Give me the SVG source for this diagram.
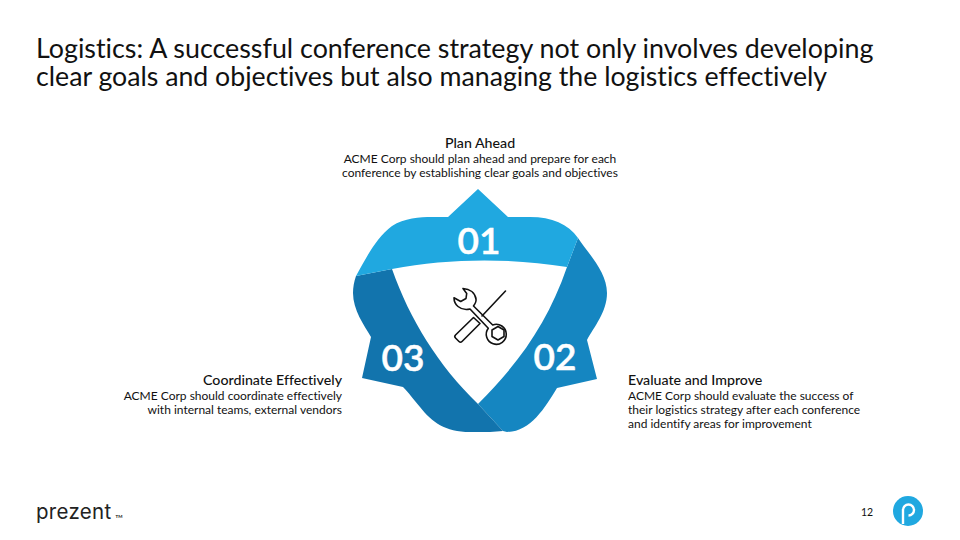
<svg xmlns="http://www.w3.org/2000/svg" width="960" height="540" viewBox="0 0 960 540">
<style>
text{font-family:Lato,"Liberation Sans",sans-serif;fill:#111;font-variant-ligatures:none}
.t{font-size:26.85px}
.h{font-size:14.2px;font-weight:500}
.b{font-size:12px}
.n{font-size:37px;font-weight:600;fill:#fff;stroke:#fff;stroke-width:.5;text-anchor:middle}
.m{text-anchor:middle}.e{text-anchor:end}
.i{fill:none;stroke:#111;stroke-width:1.6;stroke-linejoin:round;stroke-linecap:round}
</style>
<rect width="960" height="540" fill="#fff"/>
<g id="title"><text class="t" x="36" y="57.500">Logistics: A successful conference strategy not only involves developing</text>
<text class="t" x="36" y="86" style="font-size:26.7px">clear goals and objectives but also managing the logistics effectively</text></g>
<g id="segment-02"><path fill="#1586c1" d="M578 238C588 253 607 272 607 293C607 312 594 327 587 340L597 379L557 388C545 408 530 432 507 432L503 431L478 404C520 362 548 322 567 267Z"/>
<text class="n" x="555" y="370">02</text></g>
<g id="segment-03"><path fill="#1274ad" d="M356 276L392 269C410 320 438 365 478 404L503 431L490 432H470C445 432 432 422 420 407C413 399 409 393 403 387L362 378L371 337C364 325 353 310 353 293C353 287 354 282 356 276Z"/>
<text class="n" x="403" y="371">03</text></g>
<g id="segment-01"><path fill="#20a8e0" d="M478 189L508 217H530C552 217 568 224 578 238L567 267C510 258 450 258 392 269L356 276C366 258 376 238 392 226C404 218 420 217 432 217H448Z"/>
<text class="n" x="479" y="254">01</text></g>
<g id="icon">
<path class="i" d="M505.500 291L482 316M473.500 317.500L455.500 335C454.500 336 454.500 337 455.500 338L459 341.500C460 342.500 461 342.500 462 341.500L480 323.500Z"/>
<path class="i" d="M463 288.500C470 289 475 293 476 299C476.500 302 475 304 473.500 306L492.700 325A10 10 0 1 1 488.300 328.300L470 309C466 310 461 309 458 306.500C455 304 454 301 454 297.700L460.700 301.500L466 298.500L466.700 293.500Z"/>
<path class="i" d="M498 326.500L504 330V336.500L498 340L492 336.500V330Z"/>
</g>
<g id="plan-ahead"><text class="h m" x="480" y="148">Plan Ahead</text>
<text class="b m" x="480" y="163">ACME Corp should plan ahead and prepare for each</text>
<text class="b m" x="480" y="177">conference by establishing clear goals and objectives</text></g>
<g id="evaluate"><text class="h" x="628" y="385">Evaluate and Improve</text>
<text class="b" x="628" y="400">ACME Corp should evaluate the success of</text>
<text class="b" x="628" y="414">their logistics strategy after each conference</text>
<text class="b" x="628" y="428">and identify areas for improvement</text></g>
<g id="coordinate"><text class="h e" x="342" y="385">Coordinate Effectively</text>
<text class="b e" x="342" y="400">ACME Corp should coordinate effectively</text>
<text class="b e" x="342" y="414">with internal teams, external vendors</text></g>
<g id="footer">
<text x="36" y="519" font-size="20.500" letter-spacing=".3" style="font-family:Inter,sans-serif;fill:#222">prezent</text>
<text x="115.500" y="518" font-size="4.500" style="font-weight:700">TM</text>
<text x="867" y="516" font-size="10.500" text-anchor="middle">12</text>
<circle cx="908" cy="511" r="15" fill="#20a8e0"/>
<path fill="none" stroke="#fff" stroke-width="2.400" d="M903 524V510A5.500 5.500 0 1 1 908.500 515.500"/>
</g>
</svg>
